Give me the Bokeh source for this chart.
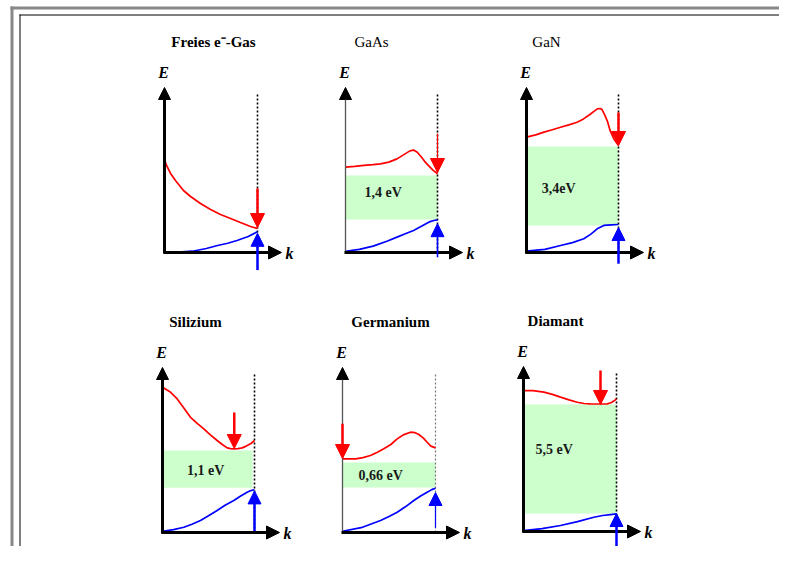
from bokeh.plotting import figure
from bokeh.models import Range1d, Arrow, NormalHead
from bokeh.core.properties import value
from bokeh.embed import file_html
from bokeh.resources import INLINE

# ---------------- data (normalized k in [0,1], E in units of panel height) ----------------
materials = ["Freies e\u207b-Gas", "GaAs", "GaN", "Silizium", "Germanium", "Diamant"]
title_bold = [True, False, False, True, True, True]
gap_labels = [None, "1,4 eV", "3,4eV", "1,1 eV", "0,66 eV", "5,5 eV"]

cb_k = [
    [0, 0.022, 0.065, 0.118, 0.204, 0.28, 0.387, 0.495, 0.602, 0.71, 0.817, 0.925, 1.0],
    [0, 0.1, 0.2, 0.3, 0.38, 0.47, 0.56, 0.63, 0.7, 0.74, 0.78, 0.82, 0.86, 0.9, 0.95, 1.0],
    [0, 0.1, 0.19, 0.28, 0.37, 0.46, 0.55, 0.62, 0.7, 0.74, 0.77, 0.8, 0.82, 0.85, 0.88, 0.91, 0.95, 1.0],
    [0, 0.08, 0.16, 0.23, 0.304, 0.38, 0.449, 0.52, 0.594, 0.65, 0.703, 0.74, 0.775, 0.82, 0.866, 0.91, 0.957, 1.0],
    [0, 0.14, 0.22, 0.30, 0.37, 0.444, 0.52, 0.588, 0.66, 0.731, 0.78, 0.821, 0.87, 0.91, 0.95, 1.0],
    [0, 0.1, 0.219, 0.31, 0.398, 0.49, 0.577, 0.65, 0.72, 0.81, 0.9, 0.94, 0.971, 1.0],
]
cb_E = [
    [0.581, 0.544, 0.494, 0.45, 0.3875, 0.35, 0.306, 0.269, 0.2375, 0.2125, 0.1875, 0.1625, 0.15],
    [0.533, 0.538, 0.544, 0.549, 0.554, 0.565, 0.585, 0.61, 0.635, 0.64, 0.627, 0.6, 0.57, 0.545, 0.515, 0.492],
    [0.721, 0.735, 0.752, 0.767, 0.783, 0.798, 0.814, 0.835, 0.867, 0.885, 0.898, 0.9, 0.894, 0.86, 0.82, 0.76, 0.71, 0.669],
    [0.908, 0.88, 0.835, 0.78, 0.72, 0.68, 0.648, 0.61, 0.575, 0.55, 0.529, 0.524, 0.523, 0.524, 0.529, 0.54, 0.554, 0.575],
    [0.46, 0.46, 0.468, 0.481, 0.5, 0.523, 0.55, 0.585, 0.612, 0.627, 0.624, 0.6125, 0.59, 0.564, 0.54, 0.529],
    [0.881, 0.88, 0.871, 0.857, 0.84, 0.823, 0.808, 0.8, 0.798, 0.797, 0.798, 0.805, 0.815, 0.829],
]
vb_k = [
    [0, 0.15, 0.3, 0.45, 0.57, 0.68, 0.78, 0.9, 1.0],
    [0, 0.15, 0.3, 0.45, 0.56, 0.65, 0.74, 0.83, 0.92, 0.96, 1.0],
    [0, 0.2, 0.37, 0.5, 0.623, 0.7, 0.768, 0.841, 0.92, 1.0],
    [0, 0.12, 0.232, 0.32, 0.413, 0.5, 0.594, 0.68, 0.775, 0.85, 0.92, 0.96, 1.0],
    [0, 0.2, 0.409, 0.5, 0.588, 0.68, 0.767, 0.84, 0.91, 0.96, 1.0],
    [0, 0.2, 0.398, 0.58, 0.756, 0.85, 0.935, 1.0],
]
vb_E = [
    [0, 0.002, 0.008, 0.025, 0.044, 0.058, 0.075, 0.1, 0.13],
    [0.008, 0.02, 0.04, 0.07, 0.096, 0.117, 0.1375, 0.165, 0.193, 0.2, 0.204],
    [0.008, 0.02, 0.044, 0.062, 0.086, 0.115, 0.148, 0.169, 0.173, 0.175],
    [0.008, 0.018, 0.033, 0.052, 0.075, 0.105, 0.1375, 0.17, 0.2, 0.228, 0.252, 0.262, 0.267],
    [0.008, 0.03, 0.075, 0.1, 0.127, 0.162, 0.2, 0.228, 0.252, 0.268, 0.277],
    [0.006, 0.018, 0.0375, 0.062, 0.089, 0.1, 0.106, 0.11],
]
gap_lo = [None, 0.206, 0.169, 0.28, 0.281, 0.1125]
gap_hi = [None, 0.481, 0.6625, 0.5125, 0.4375, 0.794]
gap_kmax = [None, 1.0, 1.0, 0.98, 1.0, 1.0]
gap_label_k = [None, 0.41, 0.35, 0.47, 0.41, 0.33]
gap_label_E = [None, 0.375, 0.40, 0.387, 0.355, 0.51]

cb_arrow_k = [1.0, 1.0, 1.0, 0.78, 0.0, 0.828]
cb_arrow_from = [0.40, 0.744, 0.875, 0.75, 0.68, 1.006]
cb_arrow_to = [0.156, 0.50, 0.669, 0.525, 0.4625, 0.794]
vb_arrow_from = [-0.11, -0.03, -0.07, 0.01, 0.03, -0.10]
vb_arrow_to = [0.12, 0.18, 0.156, 0.26, 0.25, 0.1125]

# ---------------- layout / style ----------------
origins = [(164, 252), (345, 252), (526, 252), (162, 532), (342, 532), (523, 531)]
kwidth = [93, 92, 92, 92, 93, 93]
H = 160
title_dx = [49, 26, 20, 33, 48, 32]
yaxis_thin = [False, True, False, False, True, False]
dotted_light = [False, False, False, False, True, False]
red_shaft = [2.5, 1.2, 2.5, 2.5, 2.5, 2.5]
blue_shaft = [2.5, 1.6, 2.5, 2.5, 1.2, 2.5]
RED = "#ff0000"
BLUE = "#0000ff"
GREEN = "#ccffcc"
SERIF = "Liberation Serif"

W, Hh = 779, 546
p = figure(width=W, height=Hh, output_backend="svg", toolbar_location=None,
           x_range=Range1d(0, W), y_range=Range1d(Hh, 0),
           min_border=0, outline_line_color=None)
p.axis.visible = False
p.grid.visible = False
p.background_fill_color = "white"
p.border_fill_color = "white"

# frame
p.quad(left=[10], right=[W], top=[6], bottom=[9], fill_color="#888888", line_color=None)
p.quad(left=[10], right=[13], top=[6], bottom=[Hh], fill_color="#888888", line_color=None)
p.line([19, W], [14.5, 14.5], line_color="black", line_width=1)
p.line([19.5, 19.5], [14, Hh], line_color="black", line_width=1)


def X(i, k):
    return origins[i][0] + k * kwidth[i]


def Y(i, e):
    return origins[i][1] - e * H


for i in range(6):
    x0, y0 = origins[i]
    xe = X(i, 1.0)
    # gap
    if gap_lo[i] is not None:
        p.quad(left=[x0], right=[X(i, gap_kmax[i])], top=[Y(i, gap_hi[i])], bottom=[Y(i, gap_lo[i])],
               fill_color=GREEN, line_color=None)
        p.text(x=[X(i, gap_label_k[i])], y=[Y(i, gap_label_E[i])], text=[gap_labels[i]],
               text_font=value(SERIF), text_font_size="14px", text_font_style="bold",
               text_align="center", text_baseline="middle", text_color="#1a1a1a")
    # dotted zone boundary
    p.line([xe, xe], [y0, Y(i, 1.0)], line_color="#777777" if dotted_light[i] else "black",
           line_width=1.2 if dotted_light[i] else 1.6, line_dash="2 2")
    # bands
    p.line([X(i, k) for k in cb_k[i]], [Y(i, e) for e in cb_E[i]], line_color=RED, line_width=1.7)
    p.line([X(i, k) for k in vb_k[i]], [Y(i, e) for e in vb_E[i]], line_color=BLUE, line_width=1.7)
    # axes
    if yaxis_thin[i]:
        ycol, yw = "#555555", 1.3
    else:
        ycol, yw = "black", 3
    p.add_layout(Arrow(end=NormalHead(size=12, fill_color="black", line_color="black", line_width=1),
                       x_start=x0, y_start=y0 + 1, x_end=x0, y_end=y0 - 165,
                       line_color=ycol, line_width=yw))
    p.add_layout(Arrow(end=NormalHead(size=13, fill_color="black", line_color="black", line_width=1),
                       x_start=x0 - 1, y_start=y0, x_end=x0 + 117, y_end=y0,
                       line_color="black", line_width=3))
    # transition arrows
    ca = X(i, cb_arrow_k[i])
    p.add_layout(Arrow(end=NormalHead(size=14, fill_color=RED, line_color=RED, line_width=1),
                       x_start=ca, y_start=Y(i, cb_arrow_from[i]), x_end=ca, y_end=Y(i, cb_arrow_to[i]),
                       line_color=RED, line_width=red_shaft[i]))
    p.add_layout(Arrow(end=NormalHead(size=13, fill_color=BLUE, line_color=BLUE, line_width=1),
                       x_start=xe, y_start=Y(i, vb_arrow_from[i]), x_end=xe, y_end=Y(i, vb_arrow_to[i]),
                       line_color=BLUE, line_width=blue_shaft[i]))
    # axis letters
    p.text(x=[x0 - 1], y=[y0 - 180], text=["E"], text_font=value(SERIF), text_font_size="16px",
           text_font_style="bold italic", text_align="center", text_baseline="middle", text_color="black")
    p.text(x=[x0 + 125], y=[y0 + 1], text=["k"], text_font=value(SERIF), text_font_size="16px",
           text_font_style="bold italic", text_align="center", text_baseline="middle", text_color="black")
    # title
    p.text(x=[x0 + title_dx[i]], y=[y0 - 211], text=[materials[i]], text_font=value(SERIF),
           text_font_size="15px", text_font_style="bold" if title_bold[i] else "normal",
           text_align="center", text_baseline="middle", text_color="black")

open("out.html", "w").write(file_html(p, INLINE))
